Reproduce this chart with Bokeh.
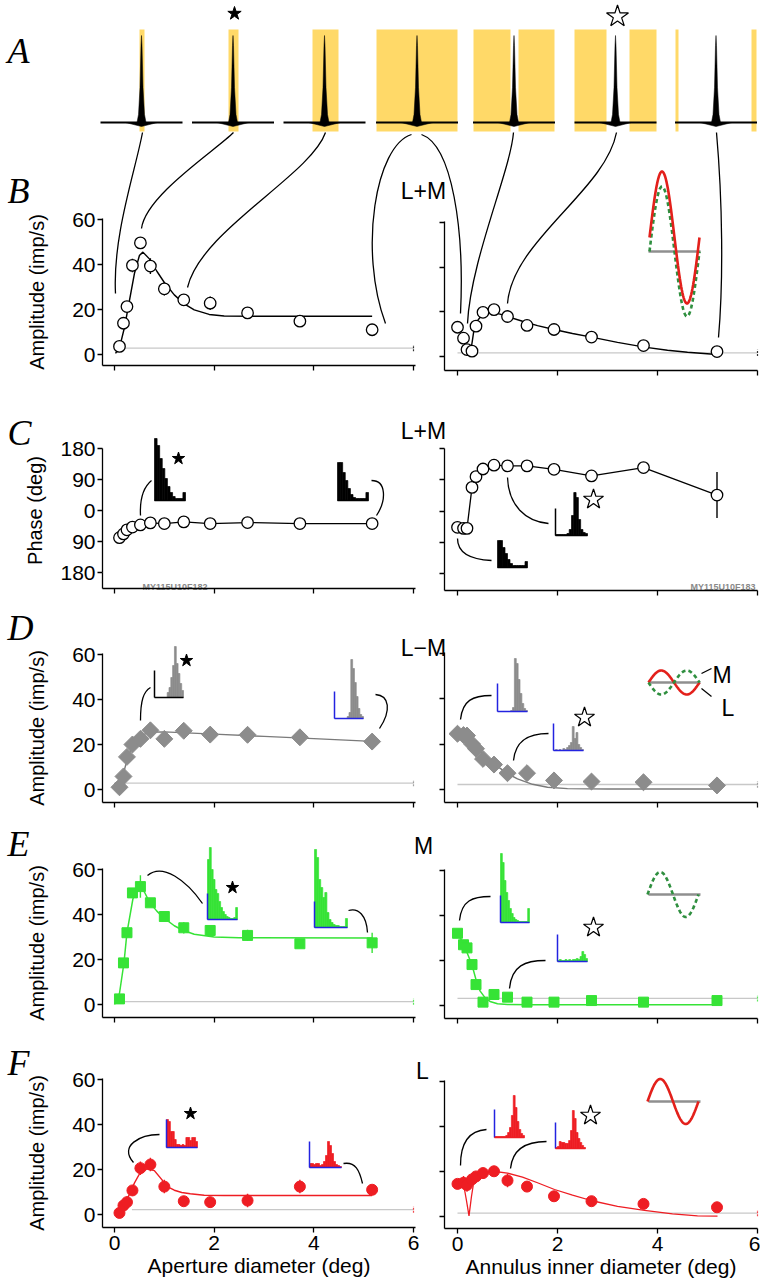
import numpy as np
from bokeh.plotting import figure
from bokeh.models import Range1d, LinearAxis, FixedTicker
from bokeh.embed import file_html
from bokeh.resources import INLINE
from bokeh.core.properties import value

# ---------------- data ----------------
aperture_deg = [0.10, 0.18, 0.25, 0.36, 0.52, 0.72, 1.00, 1.39, 1.92, 2.67, 3.72, 5.17]
annulus_deg = [0.00, 0.12, 0.19, 0.29, 0.37, 0.51, 0.73, 1.00, 1.39, 1.93, 2.68, 3.72, 5.19]

# B  L+M amplitude
lm_amp_ap = [3.6, 13.9, 21.3, 39.6, 49.6, 39.3, 29.2, 24.3, 22.8, 18.5, 14.8, 11.0]
lm_err_ap = [0.5, 1.0, 1.0, 3.0, 1.0, 3.5, 3.0, 1.0, 3.0, 1.0, 1.0, 1.0]
lm_amp_an = [13.1, 8.2, 3.1, 2.4, 13.6, 19.8, 21.0, 17.9, 13.9, 12.1, 8.7, 4.9, 2.2]
lm_err_an = [1.0, 1.0, 0.5, 0.5, 1.0, 1.0, 1.0, 1.0, 1.0, 2.5, 1.0, 1.0, 1.0]
lm_fit_ap_x = [0.02, 0.10, 0.20, 0.30, 0.40, 0.50, 0.57, 0.70, 0.85, 1.00, 1.20, 1.40, 1.60, 1.90, 2.20, 3.00, 5.17]
lm_fit_ap_y = [0.5, 3.0, 12.0, 24.0, 36.0, 44.0, 45.5, 42.5, 37.0, 32.0, 26.5, 22.5, 19.8, 17.8, 17.1, 17.0, 17.0]
lm_fit_an_x = [0.25, 0.29, 0.33, 0.40, 0.50, 0.60, 0.70, 0.85, 1.00, 1.30, 1.60, 1.93, 2.30, 2.68, 3.20, 3.74, 4.20, 4.60, 5.19]
lm_fit_an_y = [1.2, 6.0, 12.0, 16.0, 19.0, 19.8, 19.8, 19.0, 17.9, 15.8, 13.8, 12.1, 10.3, 8.7, 6.3, 4.2, 2.8, 1.9, 0.9]

# C  L+M phase
lm_phase_ap = [-79, -68, -56, -48, -42, -36, -38, -33, -38, -35, -38, -38]
lm_phase_an = [-47, -50, -50, 68, 99, 121, 132, 130, 130, 120, 101, 125, 46]
lm_phase_err_an = [0, 0, 0, 0, 0, 0, 0, 0, 0, 0, 0, 0, 66]

# D  L-M amplitude
lmm_amp_ap = [1.0, 5.8, 14.5, 20.0, 22.5, 26.3, 22.5, 26.1, 24.4, 24.3, 23.2, 21.3]
lmm_amp_an = [24.6, 24.0, 23.8, 20.1, 18.0, 13.5, 11.0, 7.2, 7.2, 4.0, 3.5, 3.2, 1.8]
lmm_fit_ap_x = [0.00, 0.10, 0.19, 0.25, 0.36, 0.50, 0.69, 1.00, 2.00, 3.00, 4.00, 5.17]
lmm_fit_ap_y = [2.5, 4.0, 8.0, 13.0, 19.5, 23.5, 25.5, 25.6, 24.6, 23.6, 22.6, 21.4]
lmm_fit_an_x = [0.05, 0.20, 0.40, 0.60, 0.80, 1.00, 1.20, 1.50, 1.80, 2.20, 3.00, 4.00, 5.19]
lmm_fit_an_y = [24.6, 22.0, 18.0, 14.0, 10.2, 7.0, 4.7, 2.3, 1.0, 0.4, 0.2, 0.2, 0.2]

# E  M-cone amplitude
m_amp_ap = [2.5, 18.5, 31.9, 49.6, 52.4, 45.2, 39.1, 34.1, 32.9, 30.7, 27.0, 27.4]
m_err_ap = [0.5, 1.0, 1.0, 1.5, 5.0, 1.0, 1.0, 2.5, 1.0, 2.5, 1.0, 4.5]
m_amp_an = [32.1, 27.0, 25.6, 18.2, 9.3, 1.5, 4.9, 3.7, 1.5, 1.5, 2.2, 1.5, 2.2]
m_err_an = [1.5, 1.0, 1.0, 1.0, 1.0, 0.5, 0.5, 1.0, 0.5, 1.0, 1.0, 0.5, 1.0]
m_fit_ap_x = [0.00, 0.10, 0.19, 0.25, 0.37, 0.49, 0.60, 0.71, 0.85, 0.99, 1.20, 1.37, 1.60, 2.00, 2.50, 5.17]
m_fit_ap_y = [0.0, 5.0, 18.5, 31.9, 47.0, 52.0, 50.0, 45.2, 41.5, 38.5, 35.0, 33.0, 31.2, 30.0, 29.7, 29.6]
m_fit_an_x = [0.00, 0.12, 0.20, 0.29, 0.37, 0.45, 0.55, 0.65, 0.80, 1.00, 1.50, 5.19]
m_fit_an_y = [32.0, 27.5, 23.0, 18.0, 11.5, 6.5, 3.5, 1.8, 0.8, 0.4, 0.3, 0.3]

# F  L-cone amplitude
l_amp_ap = [0.7, 4.0, 5.5, 10.7, 20.6, 22.2, 12.4, 5.9, 5.5, 6.2, 12.4, 11.0]
l_err_ap = [0.5, 2.5, 2.5, 1.5, 3.0, 3.0, 3.0, 1.0, 1.0, 3.0, 3.0, 1.0]
l_amp_an = [14.5, 15.0, 14.0, 16.5, 17.8, 19.3, 20.1, 16.0, 13.3, 9.0, 6.8, 5.6, 4.1]
l_err_an = [2.0, 3.0, 3.0, 2.0, 2.0, 1.0, 1.0, 3.0, 1.0, 1.0, 1.0, 1.0, 2.0]
l_fit_ap_x = [0.09, 0.20, 0.30, 0.40, 0.50, 0.65, 0.80, 0.95, 1.05, 1.20, 1.35, 1.52, 1.80, 2.20, 5.17]
l_fit_ap_y = [1.0, 4.5, 9.0, 14.0, 18.0, 20.3, 19.5, 15.5, 12.5, 10.8, 9.8, 9.2, 8.6, 8.4, 8.4]
l_fit_an_x = [0.02, 0.07, 0.10, 0.14, 0.18, 0.23, 0.28, 0.33, 0.40, 0.50, 0.75, 1.00, 1.30, 1.60, 1.94, 2.30, 2.69, 3.20, 3.74, 4.30, 4.80, 5.20]
l_fit_an_y = [17.0, 14.0, 16.0, 12.0, 7.0, 0.3, 9.0, 16.0, 18.5, 19.5, 20.0, 19.3, 17.5, 15.0, 12.0, 9.5, 7.0, 4.5, 2.7, 1.2, 0.3, 0.2]

# spontaneous-rate reference levels (imp/s), left and right panels
spont_lm = [2.8, 1.6]
spont_lmm = [2.8, 2.2]
spont_m = [1.3, 3.2]
spont_l = [2.2, 1.5]

# inset PSTH bar heights (arbitrary units = px)
psth_c = [[62, 55, 42, 32, 22, 14, 8, 4, 2, 2, 2, 8], [38, 38, 28, 20, 12, 6, 3, 2, 2, 2, 2, 8],
          [1, 1, 1, 1, 1, 2, 6, 20, 43, 38, 16, 6, 3, 2], [27, 27, 20, 14, 8, 4, 2, 2, 2, 2, 2, 6]]
psth_d = [[0, 0, 0, 0, 0, 0, 0, 5, 10, 20, 32, 51, 34, 24, 14, 7], [0, 0, 0, 0, 0, 0, 0, 2, 6, 59, 50, 36, 22, 10, 4, 2],
          [0, 0, 0, 0, 0, 0, 0, 1, 4, 53, 48, 32, 18, 8, 3, 1], [0, 1, 0, 1, 0, 2, 1, 3, 5, 8, 24, 12, 18, 6, 3, 1]]
psth_e = [[60, 72, 50, 40, 30, 26, 18, 12, 8, 5, 3, 2, 1, 1, 2, 12], [78, 70, 48, 40, 30, 35, 15, 8, 5, 3, 2, 2, 1, 1, 1, 9],
          [69, 60, 42, 30, 22, 14, 9, 5, 3, 2, 1, 1, 1, 1, 1, 14], [1, 2, 1, 1, 2, 1, 2, 1, 2, 2, 3, 2, 5, 10, 7, 3]]
psth_f = [[28, 26, 16, 16, 8, 3, 3, 2, 3, 2, 10, 10, 7, 10, 10, 6], [4, 4, 3, 4, 4, 2, 3, 6, 12, 26, 22, 14, 6, 3, 2, 1],
          [1, 1, 1, 1, 1, 1, 2, 5, 10, 22, 42, 30, 16, 8, 4, 2], [1, 2, 7, 6, 6, 5, 5, 8, 18, 38, 30, 16, 10, 6, 3, 1]]

# ---------------- style ----------------
GRAY = "#8c8c8c"
GREEN = "#36e336"
RED = "#ee1d23"
BLUE = "#2323e0"
DGREEN = "#2f8f3f"
YELLOW = "#ffd968"
SPONT = "#c8c8c8"
SINE_BASE = "#8f8f8f"
FONT = "Liberation Sans"
SERIF = "Liberation Serif"

PL, PR, PT, PB = 0, 760, 0, 1280  # page area covered by the canvas

p = figure(width=PR - PL, height=PB - PT, x_range=Range1d(PL, PR), y_range=Range1d(PB, PT),
           output_backend="svg", toolbar_location=None, min_border=0,
           x_axis_type=None, y_axis_type=None, outline_line_color=None,
           background_fill_color="white", border_fill_color="white")


def lin(d0, p0, d1, p1):
    k = (d1 - d0) / (p1 - p0)
    return lambda px: d0 + (px - p0) * k


COLS = {"L": dict(x0=114, x6=413, axis=102, end=415),
        "R": dict(x0=457, x6=757, axis=444, end=757)}
# (d0, px0, d1, px1, x-axis pixel, top of y-axis pixel)
ROWS = {
    "B": {"L": (0, 354, 60, 219, 365, 218), "R": (0, 356, 60, 222, 370, 221)},
    "C": {"L": (-180, 572, 180, 448, 588, 447), "R": (-180, 573, 180, 448, 590, 447)},
    "D": {"L": (0, 789, 60, 654, 802, 653), "R": (0, 789, 60, 653, 802, 652)},
    "E": {"L": (0, 1004, 60, 869, 1017, 868), "R": (0, 1005, 60, 870, 1018, 869)},
    "F": {"L": (0, 1214, 60, 1079, 1227, 1078), "R": (0, 1216, 60, 1081, 1228, 1080)},
}

xmaps = {c: lin(0, v["x0"], 6, v["x6"]) for c, v in COLS.items()}
ymaps = {}
ex, ey = {}, {}
for c in COLS:
    ex["x" + c] = Range1d(start=xmaps[c](PL), end=xmaps[c](PR))
for r, d in ROWS.items():
    for c, (d0, p0, d1, p1, bot, top) in d.items():
        f = lin(d0, p0, d1, p1)
        ymaps[(r, c)] = f
        ey["y" + r + c] = Range1d(start=f(PB), end=f(PT))
p.extra_x_ranges = ex
p.extra_y_ranges = ey


def style_axis(ax):
    ax.axis_line_color = "black"
    ax.axis_line_width = 1.3
    ax.major_tick_line_color = "black"
    ax.major_tick_line_width = 1.3
    ax.major_tick_out = 5
    ax.major_tick_in = 0
    ax.minor_tick_out = 0
    ax.minor_tick_in = 0
    ax.major_label_text_font = FONT
    ax.major_label_text_font_size = "21px"
    ax.major_label_text_color = "black"
    ax.axis_label_text_font = FONT
    ax.axis_label_text_font_size = "20px"
    ax.axis_label_text_font_style = "normal"
    ax.axis_label_text_color = "black"


AMP_TICKS = [0, 20, 40, 60]
PHASE_TICKS = [-180, -90, 0, 90, 180]
X_TICKS = [0, 2, 4, 6]

for r in ROWS:
    for c in COLS:
        d0, p0, d1, p1, bot, top = ROWS[r][c]
        fy, fx = ymaps[(r, c)], xmaps[c]
        ticks = PHASE_TICKS if r == "C" else AMP_TICKS
        ybounds = (-180, 180) if r == "C" else (fy(bot), fy(top))
        yax = LinearAxis(x_range_name="x" + c, y_range_name="y" + r + c,
                         fixed_location=fx(COLS[c]["axis"]), bounds=ybounds,
                         ticker=FixedTicker(ticks=ticks))
        style_axis(yax)
        yax.major_label_standoff = 2
        if r == "C":
            # remaining stretch of the phase axis spine down to the x axis
            p.line([fx(COLS[c]["axis"])] * 2, [-180, fy(bot)], line_color="black", line_width=1.3,
                   x_range_name="x" + c, y_range_name="y" + r + c)
        if c == "L":
            if r == "C":
                yax.axis_label = "Phase (deg)"
                yax.major_label_overrides = {-180: "180", -90: "90"}
                yax.axis_label_standoff = 11
            else:
                yax.axis_label = "Amplitude (imp/s)"
                yax.axis_label_standoff = 21
        else:
            yax.major_label_overrides = {t: "" for t in ticks}
        p.add_layout(yax, "left")

        xax = LinearAxis(x_range_name="x" + c, y_range_name="y" + r + c,
                         fixed_location=fy(bot), bounds=(fx(COLS[c]["axis"]), fx(COLS[c]["end"])),
                         ticker=FixedTicker(ticks=X_TICKS))
        style_axis(xax)
        xax.major_label_standoff = 3
        if r == "F":
            xax.axis_label = "Aperture diameter (deg)" if c == "L" else "Annulus inner diameter (deg)"
            xax.axis_label_text_font_size = "21px"
            xax.axis_label_standoff = 1
        else:
            xax.major_label_overrides = {t: "" for t in X_TICKS}
        p.add_layout(xax, "below")


def rn(r, c):
    return dict(x_range_name="x" + c, y_range_name="y" + r + c)


def spont_line(r, c, level, x_start, mark_color):
    p.line([x_start, 6.0], [level, level], line_color=SPONT, line_width=1.3, **rn(r, c))
    p.segment([6.0], [level - 1.4], [6.0], [level + 1.4], line_color=mark_color,
              line_width=1.2, line_dash="2 1", line_alpha=0.8, **rn(r, c))


def errbars(r, c, xs, ys, es, color):
    ys, es = np.array(ys), np.array(es)
    p.segment(xs, ys - es, xs, ys + es, line_color=color, line_width=1.4, **rn(r, c))


# ---- B ----
spont_line("B", "L", spont_lm[0], 0.12, "black")
spont_line("B", "R", spont_lm[1], 0.0, "black")
p.line(lm_fit_ap_x, lm_fit_ap_y, line_color="black", line_width=1.4, **rn("B", "L"))
p.line(lm_fit_an_x, lm_fit_an_y, line_color="black", line_width=1.4, **rn("B", "R"))
errbars("B", "L", aperture_deg, lm_amp_ap, lm_err_ap, "black")
errbars("B", "R", annulus_deg, lm_amp_an, lm_err_an, "black")
p.scatter(aperture_deg, lm_amp_ap, marker="circle", size=11.5, fill_color="white",
          line_color="black", line_width=1.3, **rn("B", "L"))
p.scatter(annulus_deg, lm_amp_an, marker="circle", size=11.5, fill_color="white",
          line_color="black", line_width=1.3, **rn("B", "R"))

# ---- C ----
p.line(aperture_deg, lm_phase_ap, line_color="black", line_width=1.3, **rn("C", "L"))
p.line(annulus_deg, lm_phase_an, line_color="black", line_width=1.3, **rn("C", "R"))
errbars("C", "R", annulus_deg, lm_phase_an, lm_phase_err_an, "black")
p.scatter(aperture_deg, lm_phase_ap, marker="circle", size=11.5, fill_color="white",
          line_color="black", line_width=1.3, **rn("C", "L"))
p.scatter(annulus_deg, lm_phase_an, marker="circle", size=11.5, fill_color="white",
          line_color="black", line_width=1.3, **rn("C", "R"))

# ---- D ----
spont_line("D", "L", spont_lmm[0], 0.0, GRAY)
spont_line("D", "R", spont_lmm[1], 0.0, GRAY)
p.line(lmm_fit_ap_x, lmm_fit_ap_y, line_color="#7a7a7a", line_width=1.4, **rn("D", "L"))
p.line(lmm_fit_an_x, lmm_fit_an_y, line_color="#7a7a7a", line_width=1.4, **rn("D", "R"))
p.scatter(aperture_deg, lmm_amp_ap, marker="square", angle=np.pi / 4, size=12,
          fill_color=GRAY, line_color=GRAY, **rn("D", "L"))
p.scatter(annulus_deg, lmm_amp_an, marker="square", angle=np.pi / 4, size=12,
          fill_color=GRAY, line_color=GRAY, **rn("D", "R"))

# ---- E ----
spont_line("E", "L", spont_m[0], 0.1, GREEN)
spont_line("E", "R", spont_m[1], 0.0, GREEN)
p.line(m_fit_ap_x, m_fit_ap_y, line_color=GREEN, line_width=1.5, **rn("E", "L"))
p.line(m_fit_an_x, m_fit_an_y, line_color=GREEN, line_width=1.5, **rn("E", "R"))
errbars("E", "L", aperture_deg, m_amp_ap, m_err_ap, GREEN)
errbars("E", "R", annulus_deg, m_amp_an, m_err_an, GREEN)
p.scatter(aperture_deg, m_amp_ap, marker="square", size=10, fill_color=GREEN,
          line_color=GREEN, **rn("E", "L"))
p.scatter(annulus_deg, m_amp_an, marker="square", size=10, fill_color=GREEN,
          line_color=GREEN, **rn("E", "R"))

# ---- F ----
spont_line("F", "L", spont_l[0], 0.35, RED)
spont_line("F", "R", spont_l[1], 0.0, RED)
p.line(l_fit_ap_x, l_fit_ap_y, line_color=RED, line_width=1.5, **rn("F", "L"))
p.line(l_fit_an_x, l_fit_an_y, line_color=RED, line_width=1.3, **rn("F", "R"))
errbars("F", "L", aperture_deg, l_amp_ap, l_err_ap, RED)
errbars("F", "R", annulus_deg, l_amp_an, l_err_an, RED)
p.scatter(aperture_deg, l_amp_ap, marker="circle", size=11, fill_color=RED,
          line_color=RED, **rn("F", "L"))
p.scatter(annulus_deg, l_amp_an, marker="circle", size=11, fill_color=RED,
          line_color=RED, **rn("F", "R"))

# ---------------- panel A : stimulus icons with PSTHs (page pixel coordinates) ----------------
icon_cx = [141, 232.5, 324, 416.5, 513.5, 615, 715.5]
icon_yellow = [[(139, 144)], [(228, 238)], [(312, 338)], [(376, 457)],
               [(473, 510), (518, 554)], [(574, 606), (629, 656)], [(675, 678), (751, 756)]]
ytop, ybot, ybase = 29, 131, 122
yl, yr_ = [], []
for spans in icon_yellow:
    for a, b in spans:
        yl.append(a)
        yr_.append(b)
p.quad(left=yl, right=yr_, top=[ytop] * len(yl), bottom=[ybot] * len(yl),
       fill_color=YELLOW, line_color=None)
spike_dx = [-4.5, -3, -1.5, -0.5, 0, 0.5, 1.5, 3, 4.5]
spike_h = [0, 8, 35, 77, 87, 77, 35, 8, 0]
px_list, py_list = [], []
for cx in icon_cx:
    px_list.append([cx + d for d in spike_dx])
    py_list.append([ybase - h for h in spike_h])
    px_list.append([cx - 16, cx, cx + 16])
    py_list.append([ybase, ybase + 4, ybase])
p.patches(px_list, py_list, fill_color="black", line_color="black", line_width=0.5)
p.segment([c - 41 for c in icon_cx], [ybase] * 7, [c + 41 for c in icon_cx], [ybase] * 7,
          line_color="black", line_width=1.8)

# stars
p.scatter([234], [13], marker="star", size=14, fill_color="black", line_color="black")
p.scatter([617], [16], marker="star", size=23, fill_color="white", line_color="black", line_width=1.2)
p.scatter([178, 186, 232, 190], [458, 660, 887, 1113], marker="star", size=13,
          fill_color="black", line_color="black")
p.scatter([593, 584, 593, 590], [499, 717, 927, 1115], marker="star", size=21,
          fill_color="white", line_color="black", line_width=1.2)

# connectors (cubic curves)  P0, C1, C2, P3
conn = [
    ((142, 132), (135, 170), (112, 235), (115, 293)),
    ((233, 132), (215, 150), (145, 195), (141, 228)),
    ((325, 132), (310, 175), (200, 230), (187, 287)),
    ((411, 134), (375, 145), (358, 250), (385, 323)),
    ((421, 134), (452, 145), (464, 230), (460, 313)),
    ((513, 132), (510, 170), (470, 260), (467, 323)),
    ((616, 132), (605, 190), (512, 240), (507, 303)),
    ((716, 132), (722, 200), (723, 280), (718, 337)),
    ((140, 515), (139, 495), (145, 485), (151, 480)),
    ((376, 515), (386, 500), (386, 480), (371, 480)),
    ((507, 477), (508, 505), (525, 521), (548, 523)),
    ((457, 538), (457, 553), (470, 559), (491, 560)),
    ((140, 720), (140, 700), (143, 691), (150, 687)),
    ((379, 728), (391, 710), (389, 695), (375, 694)),
    ((460, 719), (462, 700), (472, 695), (491, 695)),
    ((513, 760), (515, 740), (528, 733), (548, 733)),
    ((147, 875), (162, 862), (186, 880), (202, 903)),
    ((348, 910), (358, 907), (366, 915), (367, 932)),
    ((459, 920), (461, 900), (472, 896), (490, 896)),
    ((509, 988), (511, 965), (525, 960), (545, 960)),
    ((133, 1162), (118, 1145), (140, 1134), (159, 1134)),
    ((343, 1163), (355, 1161), (359, 1170), (362, 1183)),
    ((460, 1165), (460, 1140), (470, 1130), (486, 1129)),
    ((510, 1168), (512, 1148), (526, 1141), (546, 1141)),
]
p.bezier(x0=[c[0][0] for c in conn], y0=[c[0][1] for c in conn],
         x1=[c[3][0] for c in conn], y1=[c[3][1] for c in conn],
         cx0=[c[1][0] for c in conn], cy0=[c[1][1] for c in conn],
         cx1=[c[2][0] for c in conn], cy1=[c[2][1] for c in conn],
         line_color="black", line_width=1.3)

# inset PSTHs: (left x, baseline y, axis height, width, heights, bar colour, v-axis colour, h-axis colour)
insets = [
    (154, 500, 0, 31, psth_c[0], "black", "black", "black"),
    (337, 500, 0, 31, psth_c[1], "black", "black", "black"),
    (555, 535, 27, 32, psth_c[2], "black", "black", "black"),
    (497, 567, 0, 30, psth_c[3], "black", "black", "black"),
    (154, 697, 27, 29, psth_d[0], GRAY, "black", "black"),
    (334, 718, 27, 29, psth_d[1], GRAY, BLUE, BLUE),
    (497, 711, 28, 30, psth_d[2], GRAY, BLUE, BLUE),
    (553, 750, 27, 30, psth_d[3], GRAY, BLUE, BLUE),
    (207, 919, 26, 30, psth_e[0], GREEN, BLUE, BLUE),
    (314, 927, 26, 33, psth_e[1], GREEN, BLUE, BLUE),
    (500, 922, 27, 29, psth_e[2], GREEN, BLUE, BLUE),
    (557, 961, 27, 30, psth_e[3], GREEN, BLUE, BLUE),
    (166, 1147, 28, 31, psth_f[0], RED, BLUE, BLUE),
    (309, 1167, 26, 32, psth_f[1], RED, BLUE, BLUE),
    (494, 1137, 28, 30, psth_f[2], RED, BLUE, RED),
    (555, 1148, 26, 30, psth_f[3], RED, BLUE, RED),
]
for x0, yb, ah, w, hs, bc, vc, hc in insets:
    n = len(hs)
    bw = w / n
    lefts = [x0 + i * bw for i in range(n)]
    p.quad(left=lefts, right=[l + bw for l in lefts], top=[yb - h for h in hs],
           bottom=[yb] * n, fill_color=bc, line_color=bc, line_width=0.7)
    if ah:
        p.line([x0, x0], [yb, yb - ah], line_color=vc, line_width=1.5)
    p.line([x0, x0 + w], [yb, yb], line_color=hc, line_width=1.5)

# sine-wave stimulus insets
t = np.linspace(0, 1, 80)
sines = [  # (x0, width, base y, amplitude, colour, dashed, offset)
    (649, 50, 251, 65, DGREEN, True, 0),
    (649, 50, 251, 66, "#e3201b", False, -14),
    (648, 51, 682, 12, "#e3201b", False, 0),
    (648, 51, 682, -12, DGREEN, True, 0),
    (647, 51, 894, 22.5, DGREEN, True, 0),
    (647, 51, 1101, 22.5, "#e3201b", False, 0),
]
for yb in (251, 682, 894, 1101):
    p.line([648, 700], [yb, yb], line_color=SINE_BASE, line_width=2.5)
for x0, w, yb, a, col, dashed, off in sines:
    p.line(x0 + w * t, yb + off - a * np.sin(2 * np.pi * t), line_color=col, line_width=2.6,
           line_dash="4 3" if dashed else "solid")
p.segment([701, 701], [673, 688], [711, 711], [668, 696], line_color="black", line_width=1.3)

# ---------------- texts ----------------
p.text(x=[7] * 6, y=[50, 190, 432, 627, 843, 1062], text=["A", "B", "C", "D", "E", "F"],
       text_font=value(SERIF), text_font_style="italic", text_font_size=value("36px"),
       text_color="black", text_baseline="alphabetic", text_align="left")
p.text(x=[423, 423, 423, 423, 422], y=[190, 430, 647, 845, 1070],
       text=["L+M", "L+M", "L\u2212M", "M", "L"], text_font=value(FONT),
       text_font_size=value("23px"), text_color="black", text_align="center",
       text_baseline="alphabetic")
p.text(x=[712, 721], y=[674, 707], text=["M", "L"], text_font=value(FONT),
       text_font_size=value("23px"), text_color="black", text_align="left",
       text_baseline="alphabetic")
p.text(x=[142], y=[586], text=["MY115U10F182"], text_font=value(FONT), text_font_style="bold",
       text_font_size=value("9px"), text_color="#8a8a8a", text_align="left", text_baseline="alphabetic")
p.text(x=[755], y=[586], text=["MY115U10F183"], text_font=value(FONT), text_font_style="bold",
       text_font_size=value("9px"), text_color="#8a8a8a", text_align="right", text_baseline="alphabetic")

open("out.html", "w").write(file_html(p, INLINE))
